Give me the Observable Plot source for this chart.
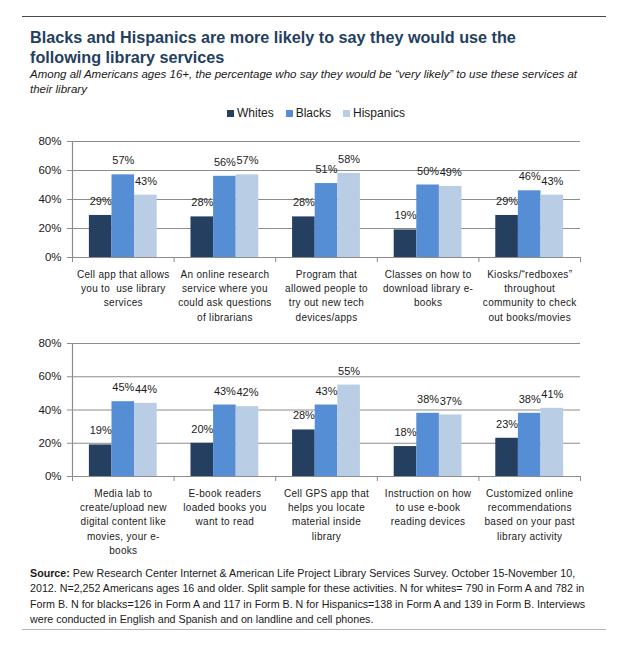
<!DOCTYPE html>
<html>
<head>
<meta charset="utf-8">
<script src="https://cdn.jsdelivr.net/npm/d3@7"></script>
<script src="https://cdn.jsdelivr.net/npm/@observablehq/plot@0.6"></script>
<style>
  html, body { margin: 0; padding: 0; background: #fff; }
  body { width: 621px; height: 646px; position: relative; overflow: hidden;
         font-family: "Liberation Sans", Arial, sans-serif; color: #1a1a1a; }
  .rule { position: absolute; left: 22px; width: 584px; }
  #topRule { top: 16px; height: 0; border-top: 1.5px solid #4a4a4a; }
  #bottomRule { top: 629px; height: 0; border-top: 1.5px solid #b4b4b4; }
  #title { position: absolute; left: 30px; top: 28px; font-size: 16.2px; font-weight: bold;
           color: #243f60; line-height: 19.5px; white-space: nowrap; }
  #subtitle { position: absolute; left: 30px; top: 67px; font-size: 11.5px; font-style: italic;
              line-height: 15px; white-space: nowrap; color: #1a1a1a; }
  #legend { position: absolute; left: 227px; top: 105px; display: flex; align-items: center;
            font-size: 12px; line-height: 16px; }
  #legend .item { display: flex; align-items: center; margin-right: 12px; }
  #legend .sw { width: 7px; height: 7px; margin-right: 3px; }
  .chart { position: absolute; left: 0; }
  #chartTop { top: 128px; }
  #chartBottom { top: 330px; }
  .chart svg g[aria-label="x-axis tick label"] { letter-spacing: 0.3px; }
  #source { position: absolute; left: 30px; top: 566px; font-size: 10.7px; line-height: 15.4px;
            white-space: nowrap; color: #1a1a1a; }
</style>
</head>
<body>
<div id="topRule" class="rule"></div>
<div id="title"></div>
<div id="subtitle"></div>
<div id="legend"></div>
<div id="chartTop" class="chart"></div>
<div id="chartBottom" class="chart"></div>
<div id="source"></div>
<div id="bottomRule" class="rule"></div>
<script>
// ---------- data ----------
const titleLines = ["Blacks and Hispanics are more likely to say they would use the", "following library services"];
const subtitleLines = ["Among all Americans ages 16+, the percentage who say they would be \u201cvery likely\u201d to use these services at", "their library"];
const races = ["Whites", "Blacks", "Hispanics"];
const raceColors = ["#243f60", "#558ed5", "#b9cde5"];
const yTicks = [0, 20, 40, 60, 80];

const categoriesTop = [
  "Cell app that allows\nyou to  use library\nservices",
  "An online research\nservice where you\ncould ask questions\nof librarians",
  "Program that\nallowed people to\ntry out new tech\ndevices/apps",
  "Classes on how to\ndownload library e-\nbooks",
  "Kiosks/\u201credboxes\u201d\nthroughout\ncommunity to check\nout books/movies"
];
const whitesTop    = [29, 28, 28, 19, 29];
const blacksTop    = [57, 56, 51, 50, 46];
const hispanicsTop = [43, 57, 58, 49, 43];

const categoriesBottom = [
  "Media lab to\ncreate/upload new\ndigital content like\nmovies, your e-\nbooks",
  "E-book readers\nloaded books you\nwant to read",
  "Cell GPS app that\nhelps you locate\nmaterial inside\nlibrary",
  "Instruction on how\nto use e-book\nreading devices",
  "Customized online\nrecommendations\nbased on your past\nlibrary activity"
];
const whitesBottom    = [19, 20, 28, 18, 23];
const blacksBottom    = [45, 43, 43, 38, 38];
const hispanicsBottom = [44, 42, 55, 37, 41];

const sourceLines = [
  "Pew Research Center Internet & American Life Project Library Services Survey. October 15-November 10,",
  "2012. N=2,252 Americans ages 16 and older. Split sample for these activities. N for whites= 790 in Form A and 782 in",
  "Form B. N for blacks=126 in Form A and 117 in Form B. N for Hispanics=138 in Form A and 139 in Form B. Interviews",
  "were conducted in English and Spanish and on landline and cell phones."
];

// ---------- text blocks ----------
document.getElementById("title").innerHTML = titleLines.join("<br>");
document.getElementById("subtitle").innerHTML = subtitleLines.join("<br>");
document.getElementById("source").innerHTML =
  "<b>Source:</b> " + sourceLines.map(s => s.replace(/&/g, "&amp;")).join("<br>");

const legend = document.getElementById("legend");
races.forEach((r, k) => {
  const item = document.createElement("div");
  item.className = "item";
  item.innerHTML = `<span class="sw" style="background:${raceColors[k]}"></span><span>${r}</span>`;
  legend.appendChild(item);
});

// ---------- chart builder ----------
const barWidth = 0.2225;               // share of each category band per bar
const groupStart = (1 - 3 * barWidth) / 2;

function makeChart(categories, series, plotHeight, marginBottom) {
  const n = categories.length;
  const rows = categories.flatMap((c, i) =>
    races.map((r, j) => ({i, j, race: r, value: series[j][i]})));
  const gridColor = "#8c8c8c";
  return Plot.plot({
    width: 621,
    height: 13 + plotHeight + marginBottom,
    marginLeft: 72,
    marginRight: 41,
    marginTop: 13,
    marginBottom,
    style: {fontFamily: "'Liberation Sans', Arial, sans-serif", fontSize: "11.5px",
            color: "#1a1a1a", background: "transparent", overflow: "visible"},
    x: {domain: [0, n], axis: null},
    y: {domain: [0, 80], axis: null},
    color: {domain: races, range: raceColors},
    marks: [
      Plot.gridY(yTicks, {stroke: gridColor, strokeOpacity: 1, strokeWidth: 1}),
      Plot.rectY(rows, {
        x1: d => d.i + groupStart + d.j * barWidth,
        x2: d => d.i + groupStart + (d.j + 1) * barWidth,
        y: "value",
        fill: "race"
      }),
      Plot.ruleY([0], {stroke: gridColor, strokeWidth: 1.2}),
      Plot.ruleX([0], {y1: 0, y2: 80, stroke: gridColor, strokeWidth: 1.2}),
      Plot.axisY({ticks: yTicks, tickFormat: d => d + "%", tickSize: 5, tickPadding: 6,
                  stroke: gridColor, fontSize: 11.5, label: null}),
      Plot.axisX({ticks: d3.range(n + 1), tickSize: 5, tickFormat: () => "",
                  stroke: gridColor, label: null}),
      Plot.axisX({ticks: d3.range(n).map(i => i + 0.5), tickSize: 0, tickPadding: 10,
                  tickFormat: v => categories[Math.floor(v)], fontSize: 10,
                  lineHeight: 1.43, label: null}),
      Plot.text(rows, {
        x: d => d.i + groupStart + (d.j + 0.5) * barWidth,
        y: "value",
        text: d => d.value + "%",
        dy: -14,
        fontSize: 11,
        fill: "#1a1a1a"
      })
    ]
  });
}

document.getElementById("chartTop").appendChild(
  makeChart(categoriesTop, [whitesTop, blacksTop, hispanicsTop], 116, 72));
document.getElementById("chartBottom").appendChild(
  makeChart(categoriesBottom, [whitesBottom, blacksBottom, hispanicsBottom], 133, 85));
</script>
</body>
</html>
